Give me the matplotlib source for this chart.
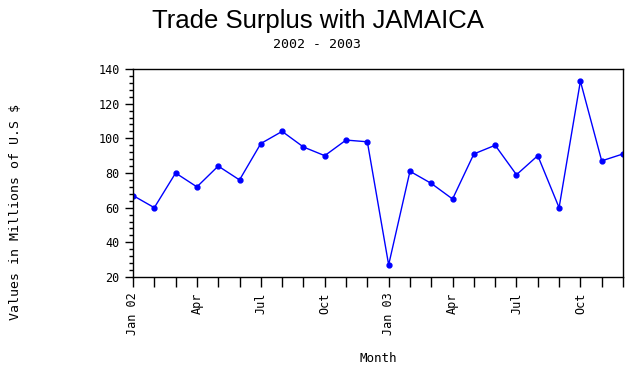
import matplotlib
matplotlib.use('Agg')
import matplotlib.pyplot as plt
from matplotlib.ticker import MultipleLocator, FixedLocator

# monthly trade surplus, Jan 2002 - Dec 2003 (millions of US $)
months = ['Jan 02', 'Feb 02', 'Mar 02', 'Apr 02', 'May 02', 'Jun 02',
          'Jul 02', 'Aug 02', 'Sep 02', 'Oct 02', 'Nov 02', 'Dec 02',
          'Jan 03', 'Feb 03', 'Mar 03', 'Apr 03', 'May 03', 'Jun 03',
          'Jul 03', 'Aug 03', 'Sep 03', 'Oct 03', 'Nov 03', 'Dec 03']
values = [67, 60, 80, 72, 84, 76, 97, 104, 95, 90, 99, 98,
          27, 81, 74, 65, 91, 96, 79, 90, 60, 133, 87, 91]
tick_labels = ['Jan 02', 'Apr', 'Jul', 'Oct', 'Jan 03', 'Apr', 'Jul', 'Oct']

mono = 'DejaVu Sans Mono'

fig = plt.figure(figsize=(6.36, 3.70), dpi=100)
ax = fig.add_axes([133 / 636, 1 - 277 / 370, 490 / 636, 208 / 370])

x = list(range(len(values)))
ax.plot(x, values, color='#0000ff', linewidth=1, marker='o', markersize=3.5)

ax.set_xlim(0, len(values) - 1)
ax.set_ylim(20, 140)
ax.yaxis.set_major_locator(MultipleLocator(20))
ax.yaxis.set_minor_locator(MultipleLocator(4))
ax.xaxis.set_major_locator(FixedLocator(list(range(0, 24, 3))))
ax.xaxis.set_minor_locator(FixedLocator(x))
ax.set_xticklabels(tick_labels, rotation=90, fontfamily=mono, fontsize=8.5)
for lab in ax.get_yticklabels():
    lab.set_fontfamily(mono)
    lab.set_fontsize(8.5)

ax.tick_params(axis='x', which='both', direction='out', length=7, width=1, pad=4)
ax.tick_params(axis='y', which='major', direction='out', length=6, width=1)
ax.tick_params(axis='y', which='minor', direction='out', length=3, width=1)
for s in ax.spines.values():
    s.set_linewidth(1)

fig.text(318 / 636, 1 - 21 / 370, 'Trade Surplus with JAMAICA',
         ha='center', va='center', fontsize=18.5, family='Liberation Sans')
fig.text(317 / 636, 1 - 45 / 370, '2002 - 2003',
         ha='center', va='center', fontsize=9.5, family=mono)
fig.text(378 / 636, 1 - 358 / 370, 'Month',
         ha='center', va='center', fontsize=9, family=mono)
fig.text(16 / 636, 1 - 212 / 370, 'Values in Millions of U.S $',
         ha='center', va='center', rotation=90, fontsize=9.5, family=mono)

fig.savefig('out.png', dpi=100)
